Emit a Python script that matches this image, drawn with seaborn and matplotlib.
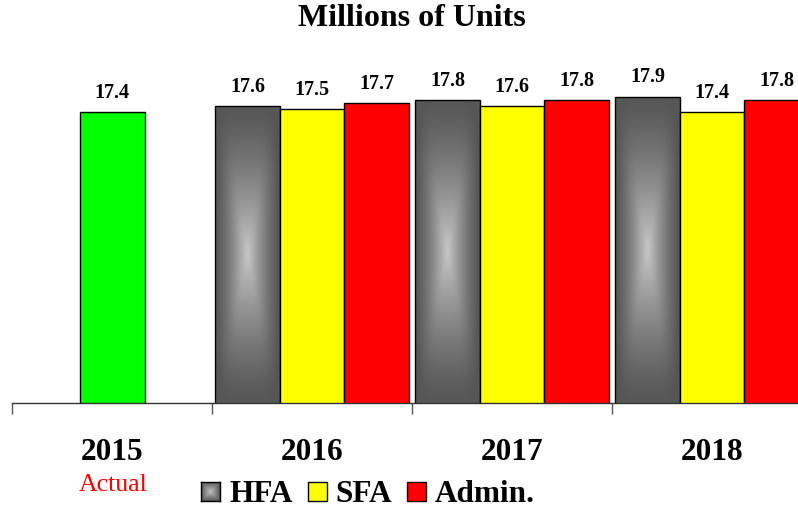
import numpy as np
import pandas as pd
import matplotlib
matplotlib.use("Agg")
import matplotlib.pyplot as plt
from matplotlib.patches import Rectangle
import seaborn as sns

# ---- data ----
years = ["2015", "2016", "2017", "2018"]
actual_years = ["2015"]
actual_values = [17.4]
series = ["HFA", "SFA", "Admin."]
forecast_years = ["2016", "2017", "2018"]
hfa_values = [17.6, 17.8, 17.9]
sfa_values = [17.5, 17.6, 17.4]
admin_values = [17.7, 17.8, 17.8]
colors = {"HFA": "#5a5a5a", "SFA": "#ffff00", "Admin.": "#ff0000"}
actual_color = "#00ff00"

sns.set_style("white")
plt.rcParams["font.family"] = ["Liberation Serif", "DejaVu Serif"]
plt.rcParams["text.color"] = "black"
plt.rcParams["xtick.color"] = "black"
plt.rcParams["xtick.labelcolor"] = "black"

W, H = 798, 508
fig = plt.figure(figsize=(W / 100, H / 100), dpi=100)

def fx(px):
    return px / W

def fy(py):
    return 1 - py / H

ax_top, ax_bot, ax_left = 60, 403, 12
ax = fig.add_axes([fx(ax_left), fy(ax_bot), 1 - fx(ax_left), (ax_bot - ax_top) / H])

df_act = pd.DataFrame({"year": actual_years, "value": actual_values})
df_fc = pd.DataFrame({
    "year": forecast_years * 3,
    "series": ["HFA"] * 3 + ["SFA"] * 3 + ["Admin."] * 3,
    "value": hfa_values + sfa_values + admin_values,
})

sns.barplot(data=df_act, x="year", y="value", order=years, color=actual_color,
            saturation=1, width=0.325, edgecolor="black", linewidth=1, ax=ax,
            errorbar=None)
sns.barplot(data=df_fc, x="year", y="value", hue="series", order=years,
            hue_order=series, palette=colors, saturation=1, width=0.967,
            edgecolor="black", linewidth=1, ax=ax, errorbar=None, legend=False)

ymin = 8.17
ymax = ymin + (ax_bot - ax_top) / 31.5
xmin, xmax = -0.5, -0.5 + (W - ax_left) / 200.0

# value labels
lab_font = dict(fontsize=14.5, fontweight="bold", color="black")
for cont in ax.containers:
    ax.bar_label(cont, fmt="%.1f", padding=6.5, **lab_font)

# gradient fill for HFA bars (rectangular path gradient, softened)
def path_gradient(nx, ny, light=0.78, dark=0.34, p=1.3, k=5.0):
    u = np.linspace(-1, 1, nx)[None, :]
    v = np.linspace(-1, 1, ny)[:, None]
    t = np.clip((np.abs(u) ** k + np.abs(v) ** k) ** (1.0 / k), 0, 1)
    val = dark + (light - dark) * (1 - t) ** p
    return np.dstack([val, val, val])

for patch in ax.containers[1].patches:
    x0 = patch.get_x()
    w = patch.get_width()
    top = patch.get_y() + patch.get_height()
    img = path_gradient(60, 300)
    im = ax.imshow(img, extent=(x0, x0 + w, ymin, top), aspect="auto",
                   origin="lower", zorder=patch.get_zorder() - 0.1,
                   interpolation="bilinear")
    im.set_clip_path(patch)
    patch.set_facecolor("none")

# axes styling
for s in ["top", "right", "left"]:
    ax.spines[s].set_visible(False)
ax.spines["bottom"].set_color("#333333")
ax.spines["bottom"].set_linewidth(1)
ax.set_yticks([])
ax.set_xlabel("")
ax.set_ylabel("")
ax.set_xticks(range(len(years)))
ax.set_xticklabels(years, fontsize=22.5, fontweight="bold")
ax.tick_params(axis="x", which="major", length=0, pad=25, bottom=True)
ax.set_xticks([i - 0.5 for i in range(len(years) + 1)], minor=True)
ax.tick_params(axis="x", which="minor", length=8, width=1, color="#555555",
               direction="out", bottom=True)
ax.set_xlim(xmin, xmax)
ax.set_ylim(ymin, ymax)

# title
fig.text(fx(412), fy(19), "Millions of Units", ha="center", va="center",
         fontsize=23, fontweight="bold")

# "Actual" note
fig.text(fx(113), fy(485), "Actual", ha="center", va="center", fontsize=18.5,
         color="#ff0000")

# legend
sq = 19
leg_items = [("HFA", 201, 230), ("SFA", 308, 335), ("Admin.", 407, 435)]
for name, sx, tx in leg_items:
    if name == "HFA":
        lax = fig.add_axes([fx(sx), fy(501), sq / W, sq / H])
        lax.imshow(path_gradient(40, 40, light=0.75, dark=0.35, p=1.0, k=8.0),
                   aspect="auto", interpolation="bilinear")
        lax.set_xticks([])
        lax.set_yticks([])
        for s in lax.spines.values():
            s.set_color("black")
            s.set_linewidth(1)
    else:
        fig.add_artist(Rectangle((fx(sx), fy(501)), sq / W, sq / H,
                                 transform=fig.transFigure,
                                 facecolor=colors[name], edgecolor="black",
                                 linewidth=1))
    fig.text(fx(tx), fy(502), name, ha="left", va="baseline", fontsize=22.5,
             fontweight="bold")

fig.savefig("out.png", dpi=100)
